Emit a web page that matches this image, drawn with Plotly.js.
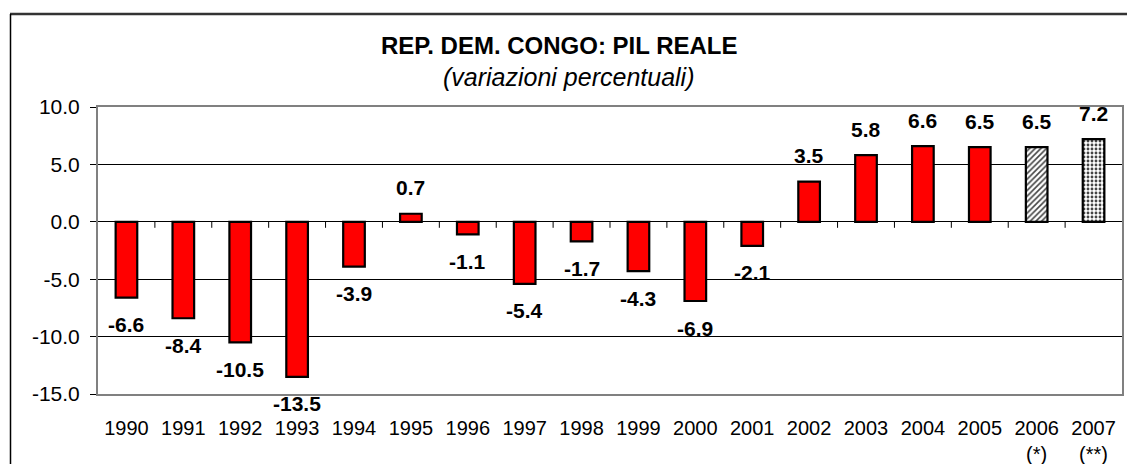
<!DOCTYPE html>
<html>
<head>
<meta charset="utf-8">
<script src="https://cdn.plot.ly/plotly-3.0.1.min.js"></script>
<style>html,body{margin:0;padding:0;background:#fff;}#chart{width:1127px;height:464px;}</style>
</head>
<body>
<div id="chart"></div>
<script>
const years = ["1990","1991","1992","1993","1994","1995","1996","1997","1998","1999","2000","2001","2002","2003","2004","2005","2006","2007"];
const tickLabels = ["1990","1991","1992","1993","1994","1995","1996","1997","1998","1999","2000","2001","2002","2003","2004","2005","2006<br>(*)","2007<br>(**)"];
const growth = [-6.6, -8.4, -10.5, -13.5, -3.9, 0.7, -1.1, -5.4, -1.7, -4.3, -6.9, -2.1, 3.5, 5.8, 6.6, 6.5, 6.5, 7.2];
const yTickVals = [-15, -10, -5, 0, 5, 10];
const yTickText = ["-15.0", "-10.0", "-5.0", "0.0", "5.0", "10.0"];
const fillColors = years.map(y => (y === "2006" || y === "2007") ? "#ffffff" : "#ff0000");
const patternShapes = years.map(y => y === "2006" ? "/" : (y === "2007" ? "." : ""));
const patternFg = years.map(y => y === "2007" ? "#b4b4b4" : "#6a6a6a");

const L = 98, R = 5, T = 107, B = 70, W = 1127, H = 464;
const pw = W - L - R, ph = H - T - B;
const px = v => (v - L) / pw;
const py = v => (H - B - v) / ph;
const FONT = "Arial, 'Liberation Sans', sans-serif";
const xRange = [-0.5, years.length - 0.5];
const yRange = [-15, 10];
const zeroFrac = (0 - yRange[0]) / (yRange[1] - yRange[0]);

const trace = {
  type: "bar",
  x: years,
  y: growth,
  marker: {
    color: fillColors,
    line: {color: "#000000", width: 2.2},
    pattern: {shape: patternShapes, fgcolor: patternFg, size: 4, solidity: 0.4, fillmode: "overlay", fgopacity: 1}
  },
  hoverinfo: "x+y"
};

const valueLabels = growth.map((v, i) => ({
  x: i, y: v, xref: "x", yref: "y",
  text: "<b>" + v.toFixed(1) + "</b>",
  showarrow: false, xanchor: "center", yanchor: "middle",
  yshift: v >= 0 ? 26 : -27,
  font: {family: FONT, size: 21, color: "#000"}
}));

// small tick marks on the zero line at category boundaries
const zeroTicks = [];
for (let i = 1; i < years.length; i++) {
  zeroTicks.push({type: "line", xref: "paper", yref: "paper", x0: i / years.length, x1: i / years.length,
    y0: zeroFrac, y1: zeroFrac - 6 / ph, line: {color: "#000000", width: 1}});
}

const layout = {
  width: W, height: H,
  margin: {l: L, r: R, t: T, b: B},
  paper_bgcolor: "#ffffff",
  plot_bgcolor: "#ffffff",
  showlegend: false,
  bargap: 0.62,
  font: {family: FONT, color: "#000"},
  xaxis: {
    type: "category",
    categoryorder: "array", categoryarray: years,
    range: xRange,
    tickvals: years,
    ticktext: tickLabels,
    tickfont: {size: 20},
    showline: true, linecolor: "#808080", linewidth: 2, mirror: true,
    ticks: "", ticklabelstandoff: 15,
    showgrid: false
  },
  yaxis: {
    range: yRange,
    tickvals: yTickVals,
    ticktext: yTickText,
    tickfont: {size: 21},
    showline: true, linecolor: "#808080", linewidth: 2, mirror: true,
    ticks: "outside", ticklen: 6, tickcolor: "#000", ticklabelstandoff: 6,
    showgrid: true, gridcolor: "#000000", gridwidth: 1,
    zeroline: false
  },
  annotations: [
    {text: "<b>REP. DEM. CONGO: PIL REALE</b>", xref: "paper", yref: "paper", x: px(559), y: py(46), xanchor: "center", yanchor: "middle", showarrow: false, font: {family: FONT, size: 24}},
    {text: "<i>(variazioni percentuali)</i>", xref: "paper", yref: "paper", x: px(569), y: py(77), xanchor: "center", yanchor: "middle", showarrow: false, font: {family: FONT, size: 25}}
  ].concat(valueLabels),
  shapes: [
    {type: "line", xref: "paper", yref: "paper", x0: px(10), x1: px(1135), y0: py(14), y1: py(14), line: {color: "#333333", width: 2.5}},
    {type: "line", xref: "paper", yref: "paper", x0: px(10.5), x1: px(10.5), y0: py(14), y1: py(470), line: {color: "#000000", width: 1.5}}
  ].concat(zeroTicks)
};

Plotly.newPlot("chart", [trace], layout, {displayModeBar: false, staticPlot: true});
</script>
</body>
</html>
